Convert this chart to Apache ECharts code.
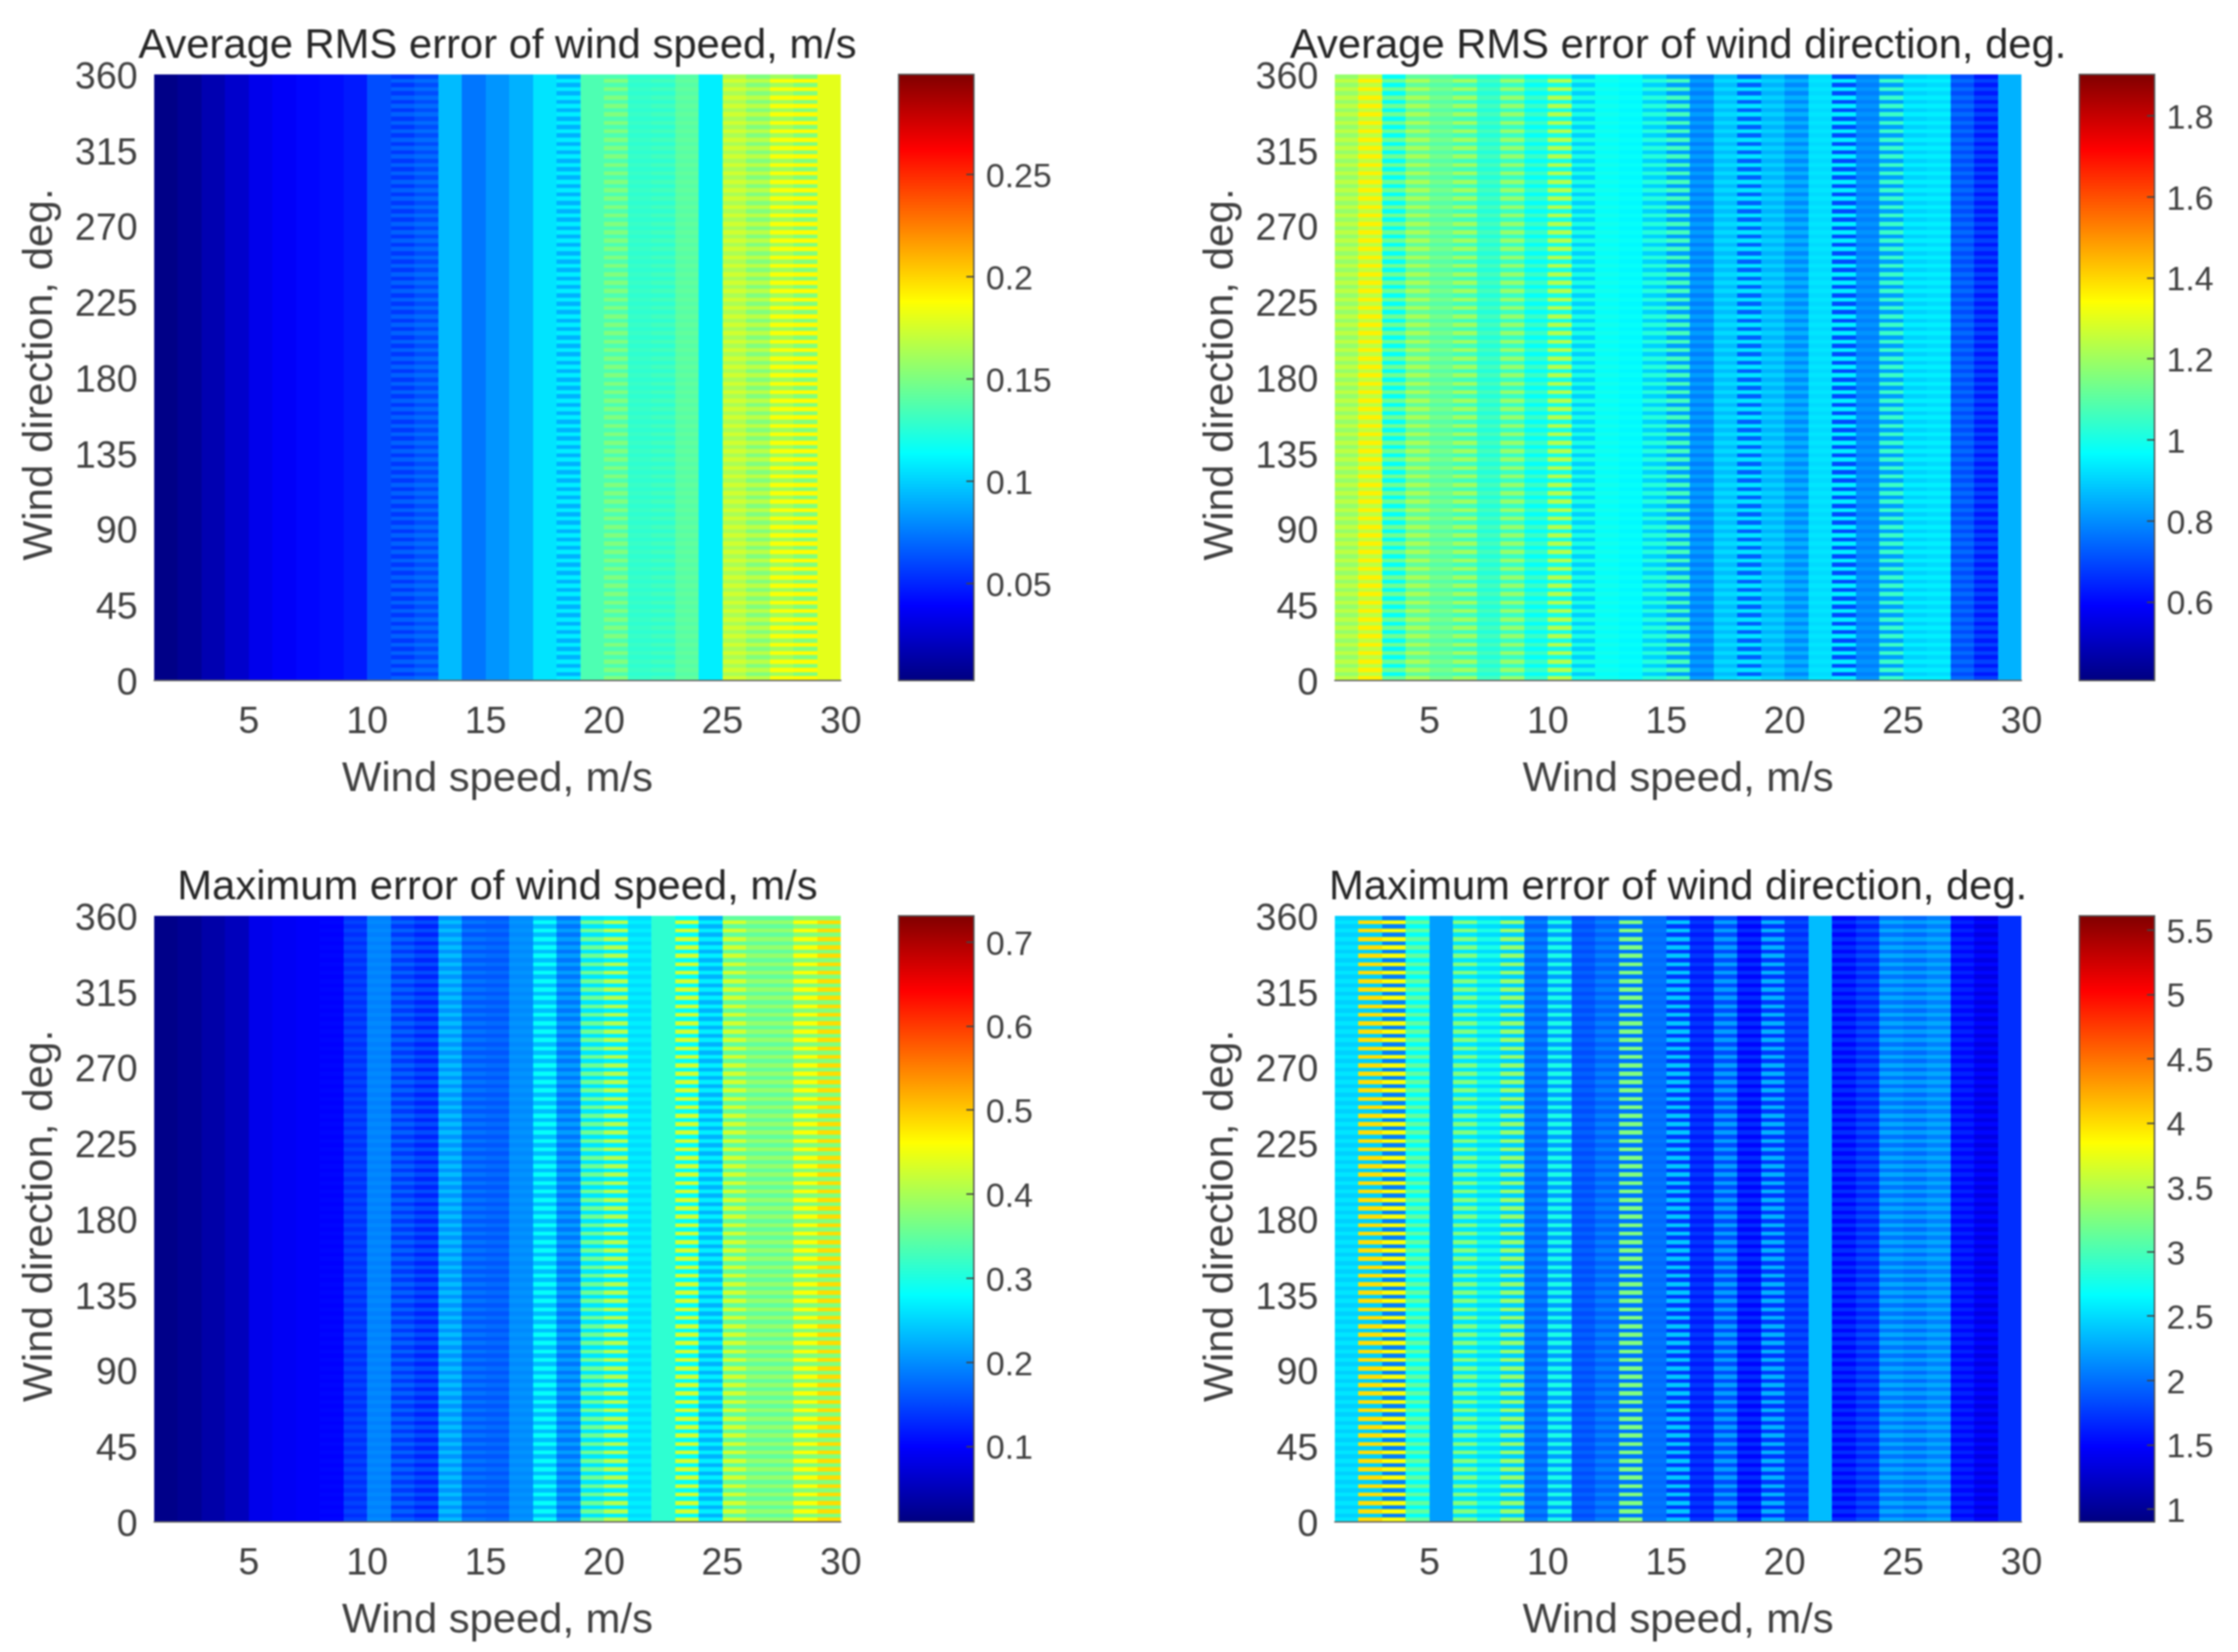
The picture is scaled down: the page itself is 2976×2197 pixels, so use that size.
<!DOCTYPE html>
<html>
<head>
<meta charset="utf-8">
<title>Wind errors</title>
<style>
html, body { margin: 0; padding: 0; background: #fff; }
#main { width: 2976px; height: 2197px; filter: blur(0.8px); }
</style>
<script src="https://cdn.jsdelivr.net/npm/echarts@6/dist/echarts.min.js"></script>
</head>
<body>
<div id="main"></div>
<script>
var titles = ['Average RMS error of wind speed, m/s', 'Average RMS error of wind direction, deg.', 'Maximum error of wind speed, m/s', 'Maximum error of wind direction, deg.'];
var xName = 'Wind speed, m/s';
var yName = 'Wind direction, deg.';
var xTicks = [5, 10, 15, 20, 25, 30];
var yTicks = [0, 45, 90, 135, 180, 225, 270, 315, 360];

// one entry per 1 m/s column, wind speed 1 to 30
// Base = rows between the 5 deg lines, Stripe = rows on the 5 deg lines
var speedRmsBase = [.005, .009, .017, .025, .034, .038, .041, .043, .047, .062, .056, .062, .094, .074, .083, .091, .106, .091, .136, .136, .127, .127, .139, .109, .163, .151, .160, .151, .180];
var speedRmsStripe = [.005, .009, .017, .025, .034, .038, .041, .043, .047, .062, .068, .071, .094, .074, .083, .091, .106, .109, .136, .151, .130, .133, .142, .109, .174, .168, .186, .189, .180];
var dirRmsBase = [1.184, 1.244, .974, 1.109, 1.094, 1.064, 1.019, 1.049, .974, 1.004, .900, .974, .960, .900, .825, .780, .870, .735, .855, .795, .915, .705, .780, .825, .900, .915, .705, .630, .855];
var dirRmsStripe = [1.244, 1.363, 1.124, 1.214, 1.139, 1.199, 1.064, 1.184, 1.049, 1.229, 1.004, .990, .974, 1.019, 1.064, .825, .915, .930, .900, .855, .930, .945, .810, 1.049, .945, .945, .750, .690, .855];
var speedMaxBase = [.017, .024, .039, .053, .086, .093, .097, .100, .133, .190, .140, .125, .205, .161, .161, .197, .234, .183, .262, .270, .255, .313, .284, .226, .349, .349, .349, .371, .371];
var speedMaxStripe = [.017, .024, .039, .053, .086, .093, .097, .104, .147, .197, .169, .154, .234, .183, .176, .205, .284, .212, .356, .407, .270, .313, .428, .270, .428, .385, .385, .457, .486];
var dirMaxBase = [2.45, 2.45, 2.08, 2.69, 2.22, 2.55, 2.50, 2.45, 1.94, 2.22, 1.84, 1.94, 2.03, 1.98, 1.75, 1.61, 1.84, 1.51, 1.75, 1.70, 2.36, 1.51, 1.65, 2.03, 1.98, 2.08, 1.51, 1.37, 1.70];
var dirMaxStripe = [2.55, 4.00, 3.82, 3.11, 2.22, 3.26, 2.78, 3.35, 2.08, 2.78, 1.94, 2.08, 3.26, 2.03, 2.41, 1.75, 2.22, 1.70, 2.31, 1.84, 2.36, 1.70, 1.84, 2.27, 2.22, 2.27, 1.65, 1.51, 1.70];

// colorbar limits and ticks
var barRanges = [[0.0026, 0.2988], [0.406, 1.902], [0.01, 0.731], [0.9, 5.61]];
var barTicks = [
    [0.05, 0.1, 0.15, 0.2, 0.25],
    [0.6, 0.8, 1, 1.2, 1.4, 1.6, 1.8],
    [0.1, 0.2, 0.3, 0.4, 0.5, 0.6, 0.7],
    [1, 1.5, 2, 2.5, 3, 3.5, 4, 4.5, 5, 5.5]
];
var jet = ['#00007f', '#0000ff', '#007fff', '#00ffff', '#7fff7f', '#ffff00', '#ff7f00', '#ff0000', '#7f0000'];

var panelData = [[speedRmsBase, speedRmsStripe], [dirRmsBase, dirRmsStripe], [speedMaxBase, speedMaxStripe], [dirMaxBase, dirMaxStripe]];
var rowStep = 2.5;
var plotLeft = [205, 1775];
var barLeft = [1195, 2765];
var plotTop = [99, 1218];
var plotW = 913, plotH = 806, barW = 100;

function buildRows(base, stripe) {
    var rows = [];
    for (var r = 0; r < 144; r++) {
        var source = r % 2 === 0 ? stripe : base;
        for (var c = 0; c < source.length; c++) {
            rows.push([c + 1, r * rowStep, source[c]]);
        }
    }
    return rows;
}

function renderCell(params, api) {
    var p0 = api.coord([api.value(0), api.value(1)]);
    var p1 = api.coord([api.value(0) + 1, api.value(1) + rowStep]);
    var x0 = Math.round(p0[0]), x1 = Math.round(p1[0]);
    var y0 = Math.round(p0[1]), y1 = Math.round(p1[1]);
    return {
        type: 'rect',
        shape: { x: x0, y: y1, width: x1 - x0, height: y0 - y1 },
        style: { fill: api.visual('color') }
    };
}

function renderBar(params, api) {
    var p0 = api.coord([0, api.value(0)]);
    var p1 = api.coord([1, api.value(1)]);
    var stops = jet.map(function (c, i) {
        return { offset: i / (jet.length - 1), color: c };
    });
    return {
        type: 'rect',
        shape: { x: p0[0], y: p1[1], width: p1[0] - p0[0], height: p0[1] - p1[1] },
        style: {
            fill: new echarts.graphic.LinearGradient(0, 1, 0, 0, stops),
            stroke: '#555',
            lineWidth: 2
        }
    };
}

var option = { animation: false, textStyle: { fontFamily: 'Liberation Sans' }, title: [], grid: [], xAxis: [], yAxis: [], visualMap: [], series: [] };

titles.forEach(function (name, i) {
    var col = i % 2, row = Math.floor(i / 2);
    var g = i * 2;

    option.title.push({
        text: name,
        left: plotLeft[col] + plotW / 2 - 5,
        top: plotTop[row] - 70,
        textAlign: 'center',
        textStyle: { fontFamily: 'Liberation Sans', fontSize: 55.5, fontWeight: 'normal', color: '#262626' }
    });

    // heat panel
    option.grid.push({ left: plotLeft[col], top: plotTop[row], width: plotW, height: plotH });
    option.xAxis.push({
        type: 'value', gridIndex: g, min: 1, max: 30,
        name: xName, nameLocation: 'middle', nameGap: 104,
        nameTextStyle: { fontSize: 55.5, color: '#404040' },
        splitLine: { show: false },
        axisTick: { show: false },
        axisLine: { show: true, onZero: false, lineStyle: { color: '#666', width: 2 } },
        z: 5,
        axisLabel: { customValues: xTicks, fontSize: 50, color: '#404040', margin: 31 }
    });
    option.yAxis.push({
        type: 'value', gridIndex: g, min: 0, max: 360,
        name: yName, nameLocation: 'middle', nameGap: 123,
        nameTextStyle: { fontSize: 56, color: '#404040', padding: [0, 0, 0, 8] },
        splitLine: { show: false },
        axisTick: { show: false },
        axisLine: { show: false },
        // top aligned with a negative padding, so the digits sit 5px lower than 'middle'
        axisLabel: { customValues: yTicks, fontSize: 50, color: '#404040', margin: 22, verticalAlign: 'top', lineHeight: 50, padding: [-20, 0, 0, 0] }
    });
    option.visualMap.push({
        show: false, seriesIndex: g, dimension: 2,
        min: barRanges[i][0], max: barRanges[i][1],
        inRange: { color: jet }
    });
    option.series.push({
        type: 'custom', xAxisIndex: g, yAxisIndex: g,
        renderItem: renderCell,
        progressive: 0, // drawn in chunks the earlier panels go blank
        encode: { x: 0, y: 1 },
        data: buildRows(panelData[i][0], panelData[i][1])
    });

    // colorbar
    option.grid.push({ left: barLeft[col], top: plotTop[row], width: barW, height: plotH });
    option.xAxis.push({ type: 'value', gridIndex: g + 1, min: 0, max: 1, show: false });
    option.yAxis.push({
        type: 'value', gridIndex: g + 1, position: 'right',
        min: barRanges[i][0], max: barRanges[i][1],
        splitLine: { show: false },
        axisLine: { show: false, onZero: false },
        z: 5,
        axisTick: { show: true, inside: true, length: 10, customValues: barTicks[i], lineStyle: { color: '#444', width: 2 } },
        axisLabel: { customValues: barTicks[i], fontSize: 45, color: '#404040', margin: 16, verticalAlign: 'top', lineHeight: 45, padding: [-18, 0, 0, 0] }
    });
    option.series.push({
        type: 'custom', xAxisIndex: g + 1, yAxisIndex: g + 1,
        renderItem: renderBar,
        encode: { y: [0, 1] },
        data: [barRanges[i]]
    });
});

var myChart = echarts.init(document.getElementById('main'));
myChart.setOption(option);
window.addEventListener('resize', function () {
    myChart.resize();
});
</script>
</body>
</html>
